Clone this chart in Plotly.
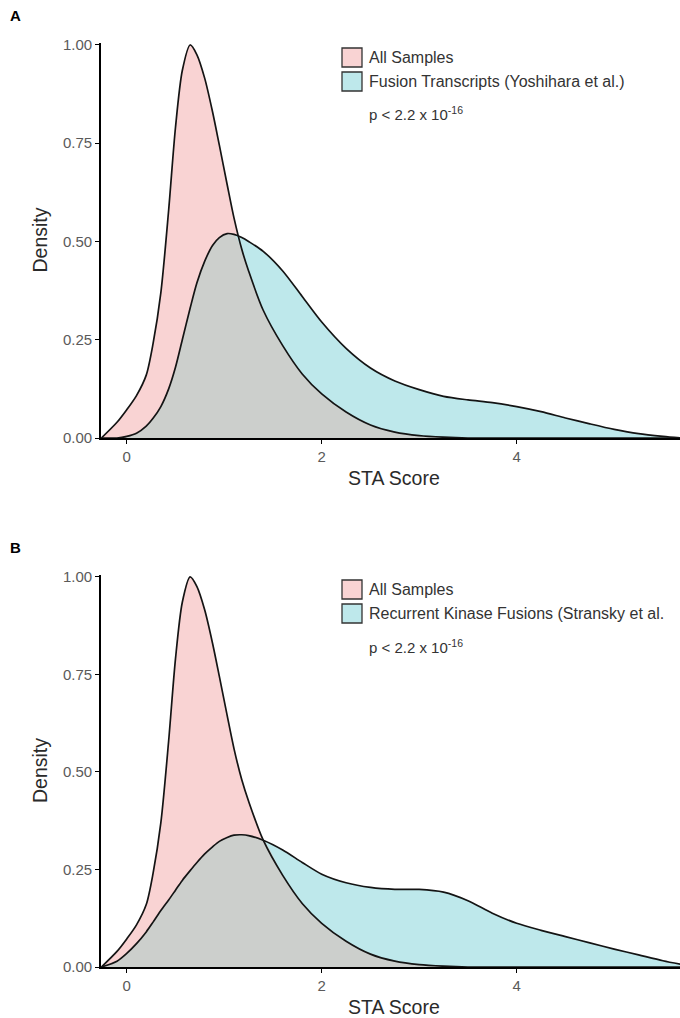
import numpy as np
import plotly.graph_objects as go

W, H = 680, 1018

# ---------------- data ----------------
x_grid = [-0.26, -0.1, 0.0, 0.1, 0.2, 0.27, 0.35, 0.43, 0.5, 0.57, 0.65, 0.72, 0.8, 0.88,
          0.95, 1.03, 1.1, 1.18, 1.25, 1.4, 1.6, 1.8, 2.0, 2.25, 2.5, 2.75, 3.0, 3.25,
          3.5, 3.75, 4.0, 4.25, 4.5, 4.75, 5.0, 5.25, 5.5, 5.68]

all_samples = [0.0, 0.04, 0.072, 0.108, 0.16, 0.24, 0.37, 0.58, 0.79, 0.935, 1.0, 0.975,
               0.915, 0.83, 0.745, 0.645, 0.56, 0.48, 0.425, 0.325, 0.235, 0.163, 0.112, 0.066,
               0.033, 0.015, 0.006, 0.002, 0.0, 0.0, 0.0, 0.0, 0.0, 0.0, 0.0, 0.0, 0.0, 0.0]

fusion_yoshihara = [0.0, 0.0, 0.004, 0.012, 0.03, 0.05, 0.08, 0.125, 0.18, 0.25, 0.33, 0.395,
                    0.45, 0.49, 0.51, 0.52, 0.518, 0.51, 0.50, 0.475, 0.425, 0.36, 0.295, 0.228,
                    0.178, 0.145, 0.123, 0.106, 0.097, 0.09, 0.08, 0.067, 0.051, 0.036, 0.022,
                    0.011, 0.004, 0.0]

kinase_stransky = [0.0, 0.015, 0.035, 0.06, 0.09, 0.115, 0.145, 0.172, 0.197, 0.222, 0.247,
                   0.268, 0.29, 0.308, 0.322, 0.332, 0.338, 0.339, 0.337, 0.325, 0.30, 0.268,
                   0.238, 0.216, 0.204, 0.199, 0.199, 0.192, 0.17, 0.138, 0.112, 0.094, 0.078,
                   0.062, 0.046, 0.031, 0.016, 0.007]

panels = [
    dict(label="A", other=fusion_yoshihara, other_name="Fusion Transcripts (Yoshihara et al.)"),
    dict(label="B", other=kinase_stransky, other_name="Recurrent Kinase Fusions (Stransky et al."),
]
y_ticks = [0.0, 0.25, 0.5, 0.75, 1.0]
x_ticks = [0, 2, 4]

PINK = "#F9D3D3"
BLUE = "#BEE8EB"
GRAY = "#CCCFCC"
LINE = "#141414"
FONT = "Liberation Sans, Arial, sans-serif"

# panel geometry in pixels: (top of plot, bottom of plot)
panel_px = [(43, 438), (575, 967)]
x_left_px = 101


def px_x(v):
    return v / W


def px_y(v):
    return 1 - v / H


fig = go.Figure()
shapes, annotations = [], []

for i, p in enumerate(panels):
    xa = "x" if i == 0 else "x2"
    ya = "y" if i == 0 else "y2"
    pink = np.array(all_samples)
    other = np.array(p["other"])
    overlap = np.minimum(pink, other)
    common = dict(x=x_grid, xaxis=xa, yaxis=ya, mode="lines", showlegend=False,
                  hoverinfo="skip", line_shape="spline", line_smoothing=0.8)
    fig.add_trace(go.Scatter(y=pink, fill="tozeroy", fillcolor=PINK,
                             line=dict(width=0, color=PINK), **common))
    fig.add_trace(go.Scatter(y=other, fill="tozeroy", fillcolor=BLUE,
                             line=dict(width=0, color=BLUE), **common))
    fig.add_trace(go.Scatter(y=overlap, fill="tozeroy", fillcolor=GRAY,
                             line=dict(width=0, color=GRAY), **common))
    fig.add_trace(go.Scatter(y=pink, line=dict(width=1.7, color=LINE), **common))
    fig.add_trace(go.Scatter(y=other, line=dict(width=1.7, color=LINE), **common))

    top, bot = panel_px[i]
    axis_common = dict(showline=True, linecolor="black", linewidth=1.6, ticks="outside",
                       ticklen=4, tickwidth=1.3, tickcolor="black", showgrid=False,
                       zeroline=False, tickfont=dict(family=FONT, size=15, color="#5a5a5a"))
    fig.update_layout(**{
        ("xaxis" if i == 0 else "xaxis2"): dict(
            domain=[x_left_px / W, 1.0], range=[-0.264, 5.675], tickvals=x_ticks,
            anchor=ya, automargin=False, **axis_common),
        ("yaxis" if i == 0 else "yaxis2"): dict(
            domain=[px_y(bot), px_y(top)], range=[0, 1.005], tickvals=y_ticks,
            tickformat=".2f", anchor=xa, automargin=False, **axis_common),
    })

    # panel label
    annotations.append(dict(text="<b>%s</b>" % p["label"], x=px_x(15), y=px_y(top - 28),
                            xref="paper", yref="paper", xanchor="center", yanchor="middle",
                            showarrow=False, font=dict(family=FONT, size=15, color="black")))
    # axis titles
    annotations.append(dict(text="Density", x=px_x(40), y=px_y((top + bot) / 2),
                            xref="paper", yref="paper", xanchor="center", yanchor="middle",
                            showarrow=False, textangle=-90,
                            font=dict(family=FONT, size=19.5, color="#2a2a2a")))
    annotations.append(dict(text="STA Score", x=px_x(394), y=px_y(bot + 40),
                            xref="paper", yref="paper", xanchor="center", yanchor="middle",
                            showarrow=False,
                            font=dict(family=FONT, size=19.5, color="#2a2a2a")))
    # legend
    off = top - 43
    rows = [(PINK, "All Samples", 48 + off), (BLUE, p["other_name"], 72 + off)]
    for col, name, y0 in rows:
        shapes.append(dict(type="rect", xref="paper", yref="paper",
                           x0=px_x(342), x1=px_x(362), y0=px_y(y0 + 19), y1=px_y(y0),
                           fillcolor=col, line=dict(color="#333333", width=1.3)))
        annotations.append(dict(text=name, x=px_x(367), y=px_y(y0 + 9.5), xref="paper",
                                yref="paper", xanchor="left", yanchor="middle", showarrow=False,
                                font=dict(family=FONT, size=16, color="#333333")))
    annotations.append(dict(text="p < 2.2 x 10<sup>-16</sup>", x=px_x(367), y=px_y(114 + off),
                            xref="paper", yref="paper", xanchor="left", yanchor="middle",
                            showarrow=False, font=dict(family=FONT, size=15, color="#333333")))

fig.update_layout(width=W, height=H, margin=dict(l=0, r=0, t=0, b=0),
                  paper_bgcolor="white", plot_bgcolor="white",
                  shapes=shapes, annotations=annotations)

fig.write_html("out.html")
